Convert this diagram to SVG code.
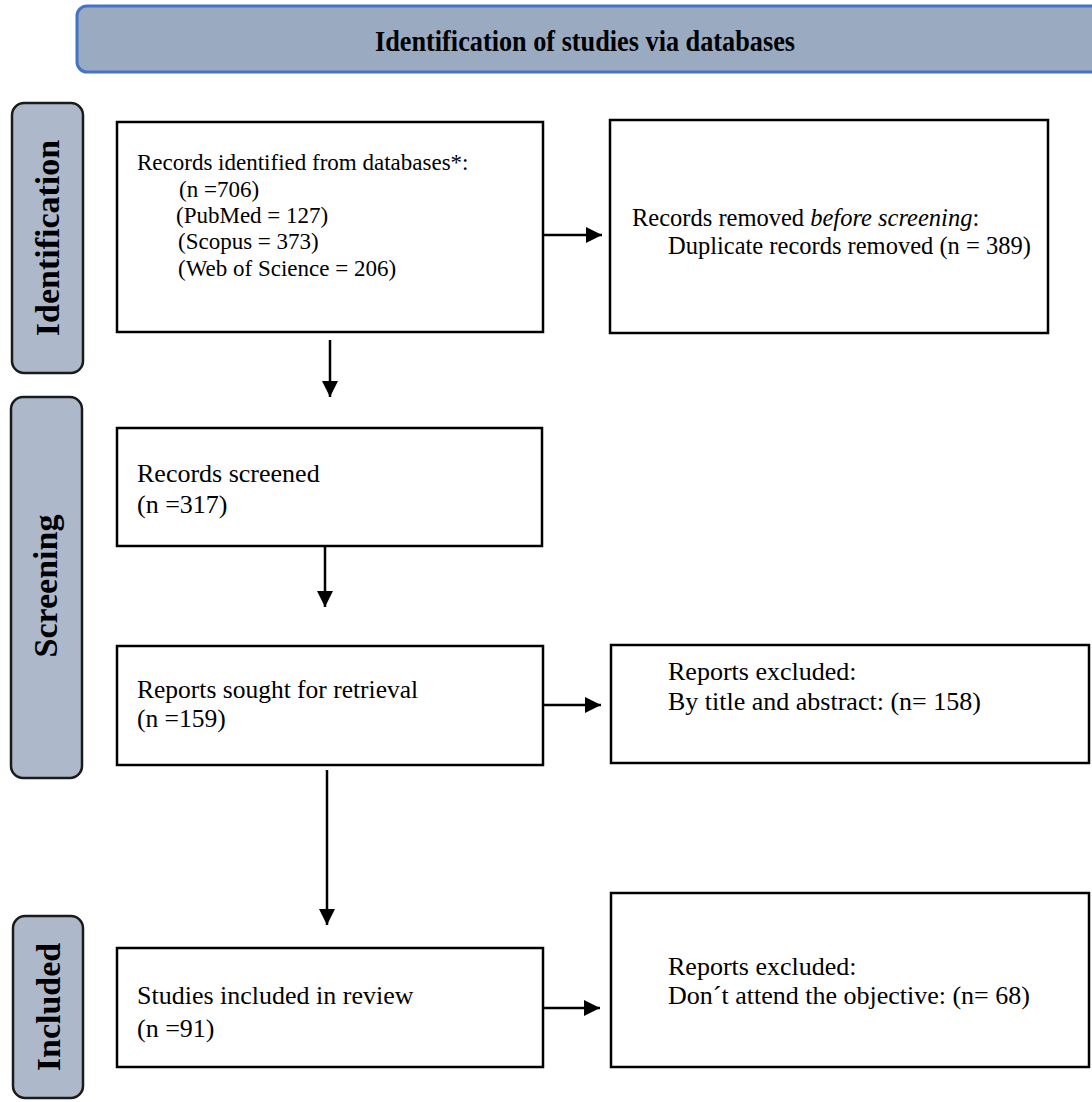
<svg xmlns="http://www.w3.org/2000/svg" width="1092" height="1102" viewBox="0 0 1092 1102">
<defs>
<marker id="ah" markerUnits="userSpaceOnUse" markerWidth="18" markerHeight="16" refX="16" refY="8" orient="auto">
<path d="M0,0 L16,8 L0,16 Z" fill="#000"/>
</marker>
<style>
.box{fill:#fff;stroke:#000;stroke-width:2.5}
.side{fill:#adb9ca;stroke:#1a1a1a;stroke-width:2.5}
.t{font-family:"Liberation Serif","Times New Roman",serif;fill:#000}
.lbl{font-family:"Liberation Serif","Times New Roman",serif;font-weight:bold;font-size:34px;fill:#000}
.con{stroke:#000;stroke-width:2.5;fill:none}
</style>
</defs>
<rect width="1092" height="1102" fill="#fff"/>
<g id="header">
<rect x="77" y="6" width="1040" height="66" rx="10" fill="#9aaac1" stroke="#4472c4" stroke-width="3"/>
<text x="585" y="51" text-anchor="middle" class="t" font-weight="bold" font-size="30" textLength="420" lengthAdjust="spacingAndGlyphs">Identification of studies via databases</text>
</g>
<g id="phase-identification">
<rect class="side" x="12" y="103" width="71" height="270" rx="12"/>
<text class="lbl" transform="translate(59,238) rotate(-90)" text-anchor="middle">Identification</text>
</g>
<g id="phase-screening">
<rect class="side" x="11" y="397" width="71" height="381" rx="12"/>
<text class="lbl" transform="translate(57,586) rotate(-90)" text-anchor="middle">Screening</text>
</g>
<g id="phase-included">
<rect class="side" x="13" y="916" width="70" height="182" rx="12"/>
<text class="lbl" transform="translate(60,1007) rotate(-90)" text-anchor="middle">Included</text>
</g>
<g id="records-identified">
<rect class="box" x="117" y="122" width="426" height="210"/>
<text class="t" font-size="23"><tspan x="137" y="170">Records identified from databases*:</tspan><tspan x="179" y="197">(n =706)</tspan><tspan x="176" y="223">(PubMed = 127)</tspan><tspan x="178" y="249">(Scopus = 373)</tspan><tspan x="178" y="276">(Web of Science = 206)</tspan></text>
</g>
<g id="records-removed">
<rect class="box" x="610" y="120" width="438" height="213"/>
<text class="t" font-size="24.5"><tspan x="632" y="226">Records removed <tspan font-style="italic">before screening</tspan>:</tspan><tspan x="668" y="254">Duplicate records removed (n = 389)</tspan></text>
</g>
<g id="records-screened">
<rect class="box" x="117" y="428" width="425" height="118"/>
<text class="t" font-size="26"><tspan x="137" y="482">Records screened</tspan><tspan x="137" y="513">(n =317)</tspan></text>
</g>
<g id="reports-sought">
<rect class="box" x="117" y="646" width="426" height="119"/>
<text class="t" font-size="25.5"><tspan x="137" y="698">Reports sought for retrieval</tspan><tspan x="137" y="727">(n =159)</tspan></text>
</g>
<g id="reports-excluded-1">
<rect class="box" x="611" y="645" width="478" height="118"/>
<text class="t" font-size="26"><tspan x="668" y="680">Reports excluded:</tspan><tspan x="668" y="710">By title and abstract: (n= 158)</tspan></text>
</g>
<g id="studies-included">
<rect class="box" x="117" y="948" width="426" height="119"/>
<text class="t" font-size="26"><tspan x="137" y="1004">Studies included in review</tspan><tspan x="137" y="1037">(n =91)</tspan></text>
</g>
<g id="reports-excluded-2">
<rect class="box" x="611" y="893" width="478" height="174"/>
<text class="t" font-size="26"><tspan x="668" y="975">Reports excluded:</tspan><tspan x="668" y="1004">Don´t attend the objective: (n= 68)</tspan></text>
</g>
<g id="connectors">
<line class="con" x1="543" y1="235" x2="602" y2="235" marker-end="url(#ah)"/>
<line class="con" x1="330" y1="340" x2="330" y2="397" marker-end="url(#ah)"/>
<line class="con" x1="325" y1="546" x2="325" y2="607" marker-end="url(#ah)"/>
<line class="con" x1="543" y1="705" x2="601" y2="705" marker-end="url(#ah)"/>
<line class="con" x1="327" y1="770" x2="327" y2="925" marker-end="url(#ah)"/>
<line class="con" x1="543" y1="1008" x2="600" y2="1008" stroke-width="4" marker-end="url(#ah)"/>
</g>
</svg>
